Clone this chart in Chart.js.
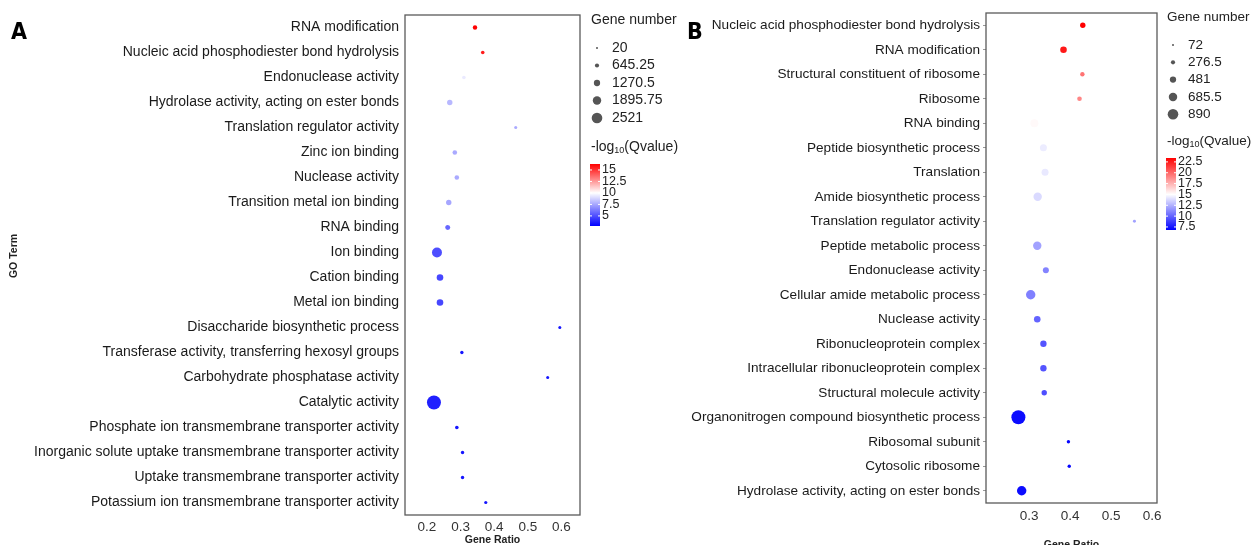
<!DOCTYPE html>
<html>
<head>
<meta charset="utf-8">
<script src="https://cdn.jsdelivr.net/npm/chart.js@4"></script>
<style>
  body { margin: 0; background: #fff; }
  #wrap { position: relative; width: 1253px; height: 545px; }
  #ca { position: absolute; left: 0; top: 0; }
  #cb { position: absolute; left: 686px; top: 0; }
</style>
</head>
<body>
<div id="wrap">
  <canvas id="ca" width="686" height="545"></canvas>
  <canvas id="cb" width="567" height="545"></canvas>
</div>
<script>
// panel A data
const termsA = [
  'RNA modification',
  'Nucleic acid phosphodiester bond hydrolysis',
  'Endonuclease activity',
  'Hydrolase activity, acting on ester bonds',
  'Translation regulator activity',
  'Zinc ion binding',
  'Nuclease activity',
  'Transition metal ion binding',
  'RNA binding',
  'Ion binding',
  'Cation binding',
  'Metal ion binding',
  'Disaccharide biosynthetic process',
  'Transferase activity, transferring hexosyl groups',
  'Carbohydrate phosphatase activity',
  'Catalytic activity',
  'Phosphate ion transmembrane transporter activity',
  'Inorganic solute uptake transmembrane transporter activity',
  'Uptake transmembrane transporter activity',
  'Potassium ion transmembrane transporter activity'
];
const ratioA = [0.343, 0.366, 0.31, 0.268, 0.464, 0.283, 0.289, 0.265, 0.262, 0.23,
                0.239, 0.239, 0.595, 0.304, 0.559, 0.221, 0.289, 0.306, 0.306, 0.375];
const countA = [95, 47, 47, 187, 27, 110, 110, 187, 145, 1100,
                346, 346, 27, 38, 27, 2521, 47, 38, 38, 32];
const qvalA = [16.3, 15.6, 9.4, 8.0, 7.6, 7.6, 7.6, 7.5, 5.7, 5.0,
               4.8, 4.8, 3.4, 3.4, 3.4, 3.7, 3.4, 3.4, 3.4, 3.4];
const xTicksA = [0.2, 0.3, 0.4, 0.5, 0.6];
const sizeKeysA = [20, 645.25, 1270.5, 1895.75, 2521];
const colorKeysA = [15, 12.5, 10, 7.5, 5];

// panel B data
const termsB = [
  'Nucleic acid phosphodiester bond hydrolysis',
  'RNA modification',
  'Structural constituent of ribosome',
  'Ribosome',
  'RNA binding',
  'Peptide biosynthetic process',
  'Translation',
  'Amide biosynthetic process',
  'Translation regulator activity',
  'Peptide metabolic process',
  'Endonuclease activity',
  'Cellular amide metabolic process',
  'Nuclease activity',
  'Ribonucleoprotein complex',
  'Intracellular ribonucleoprotein complex',
  'Structural molecule activity',
  'Organonitrogen compound biosynthetic process',
  'Ribosomal subunit',
  'Cytosolic ribosome',
  'Hydrolase activity, acting on ester bonds'
];
const ratioB = [0.431, 0.384, 0.43, 0.423, 0.313, 0.335, 0.339, 0.321, 0.557, 0.32,
                0.341, 0.304, 0.32, 0.335, 0.335, 0.337, 0.274, 0.396, 0.398, 0.282];
const countB = [127, 179, 96, 102, 263, 201, 201, 291, 74, 291,
                151, 370, 179, 169, 169, 127, 890, 78, 78, 370];
const qvalB = [23.4, 22.6, 19.6, 19.0, 15.2, 14.4, 14.3, 13.8, 12.0, 12.0,
               11.0, 10.9, 10.0, 9.5, 9.5, 9.3, 7.2, 7.0, 7.0, 7.2];
const xTicksB = [0.3, 0.4, 0.5, 0.6];
const sizeKeysB = [72, 276.5, 481, 685.5, 890];
const colorKeysB = [22.5, 20, 17.5, 15, 12.5, 10, 7.5];

Chart.defaults.font.family = "'Liberation Sans', Arial, sans-serif";
Chart.defaults.color = '#222';

function qColor(v, lo, mid, hi) {
  let w;
  if (v >= mid) {
    w = Math.round(255 * (1 - Math.min(1, (v - mid) / (hi - mid))));
    return `rgb(255,${w},${w})`;
  }
  w = Math.round(255 * (1 - Math.min(1, (mid - v) / (mid - lo))));
  return `rgb(${w},${w},255)`;
}

// point radius in the plot (area style) and in the key
function plotR(n, lo, hi) {
  return 1.2 + 5.8 * Math.sqrt((n - lo) / (hi - lo));
}
function keyR(n, lo, hi) {
  return 1 + 4.3 * (n - lo) / (hi - lo);
}

function makePanel(id, cfg) {
  const pts = cfg.terms.map((t, i) => ({
    x: cfg.ratio[i], y: t,
    r: plotR(cfg.count[i], cfg.sizeKeys[0], cfg.sizeKeys[cfg.sizeKeys.length - 1])
  }));
  const cols = cfg.qval.map(v => qColor(v, cfg.qLo, cfg.qMid, cfg.qHi));

  const extras = {
    id: 'extras',
    afterDraw(chart) {
      const ctx = chart.ctx;
      const a = chart.chartArea;
      ctx.save();
      // panel box
      ctx.strokeStyle = '#5a5a5a';
      ctx.lineWidth = 1.3;
      ctx.strokeRect(a.left, a.top, a.right - a.left, a.bottom - a.top);

      // axis titles
      ctx.fillStyle = '#222';
      ctx.font = "bold 10.5px 'Liberation Sans', Arial";
      ctx.textAlign = 'center';
      ctx.textBaseline = 'middle';
      ctx.fillText('Gene Ratio', (a.left + a.right) / 2, cfg.xTitleY);
      if (cfg.yTitle) {
        ctx.save();
        ctx.translate(14, 256);
        ctx.rotate(-Math.PI / 2);
        ctx.fillText(cfg.yTitle, 0, 0);
        ctx.restore();
      }

      // panel letter
      ctx.fillStyle = '#000';
      ctx.font = "bold 23px 'Liberation Sans Narrow', 'DejaVu Sans Condensed', sans-serif";
      ctx.textAlign = 'left';
      ctx.fillText(cfg.letter, cfg.letterX, 33);

      // size key
      const L = cfg.legend;
      ctx.fillStyle = '#222';
      ctx.font = cfg.legendFont;
      ctx.fillText('Gene number', L.x, L.titleY);
      const s0 = cfg.sizeKeys[0], s1 = cfg.sizeKeys[cfg.sizeKeys.length - 1];
      cfg.sizeKeys.forEach((k, i) => {
        const y = L.rowY + i * L.rowStep;
        ctx.fillStyle = '#555';
        ctx.beginPath();
        ctx.arc(L.x + 6, y, keyR(k, s0, s1), 0, Math.PI * 2);
        ctx.fill();
        ctx.fillStyle = '#222';
        ctx.fillText(String(k), L.x + 21, y);
      });

      // colour key title -log10(Qvalue)
      let tx = L.x;
      ctx.fillText('-log', tx, L.cTitleY);
      tx += ctx.measureText('-log').width;
      ctx.font = "9px 'Liberation Sans', Arial";
      ctx.fillText('10', tx, L.cTitleY + 4);
      tx += ctx.measureText('10').width;
      ctx.font = cfg.legendFont;
      ctx.fillText('(Qvalue)', tx, L.cTitleY);

      // colour bar
      const bt = L.barTop, bh = L.barH, bx = L.x - 1, bw = 10;
      const g = ctx.createLinearGradient(0, bt, 0, bt + bh);
      const midPos = (cfg.qHi - cfg.qMid) / (cfg.qHi - cfg.qLo);
      g.addColorStop(0, 'rgb(255,0,0)');
      g.addColorStop(midPos, 'rgb(255,255,255)');
      g.addColorStop(1, 'rgb(0,0,255)');
      ctx.fillStyle = g;
      ctx.fillRect(bx, bt, bw, bh);
      ctx.font = "12.5px 'Liberation Sans', Arial";
      cfg.colorKeys.forEach(v => {
        const y = bt + (cfg.qHi - v) / (cfg.qHi - cfg.qLo) * bh;
        ctx.strokeStyle = '#fff';
        ctx.lineWidth = 1;
        ctx.beginPath();
        ctx.moveTo(bx, y); ctx.lineTo(bx + 2, y);
        ctx.moveTo(bx + bw - 2, y); ctx.lineTo(bx + bw, y);
        ctx.stroke();
        ctx.fillStyle = '#222';
        ctx.fillText(String(v), bx + bw + 2, y);
      });
      ctx.restore();
    }
  };

  return new Chart(document.getElementById(id), {
    type: 'bubble',
    data: {
      datasets: [{
        data: pts,
        backgroundColor: cols,
        borderWidth: 0,
        hoverRadius: 0
      }]
    },
    options: {
      responsive: false,
      animation: false,
      layout: { padding: cfg.padding },
      plugins: { legend: { display: false }, tooltip: { enabled: false } },
      scales: {
        x: {
          type: 'linear',
          min: cfg.xMin,
          max: cfg.xMax,
          grid: { display: false, drawTicks: false },
          border: { display: false },
          afterBuildTicks: s => { s.ticks = cfg.xTicks.map(v => ({ value: v })); },
          afterFit: s => { s.height = cfg.xAxisH; },
          ticks: {
            padding: cfg.xPad,
            color: '#333',
            font: { size: 13.5 },
            maxRotation: 0,
            callback: v => v.toFixed(1)
          }
        },
        y: {
          type: 'category',
          labels: cfg.terms,
          offset: true,
          grid: cfg.yGrid,
          border: { display: false },
          afterFit: s => { s.width = cfg.yAxisW; },
          ticks: { padding: cfg.yPad, color: '#1a1a1a', font: { size: cfg.yFont }, autoSkip: false }
        }
      }
    },
    plugins: [extras]
  });
}

makePanel('ca', {
  terms: termsA, ratio: ratioA, count: countA, qval: qvalA,
  sizeKeys: sizeKeysA, colorKeys: colorKeysA, xTicks: xTicksA,
  qLo: 2.8, qMid: 10, qHi: 16.3,
  xMin: 0.135, xMax: 0.655,
  padding: { top: 15, right: 106, left: 0, bottom: 0 },
  yAxisW: 405, xAxisH: 30, xPad: 4, yPad: 6, yFont: 14,
  yGrid: { display: false, drawTicks: false },
  legendFont: "14px 'Liberation Sans', Arial",
  xTitleY: 540, yTitle: 'GO Term', letter: 'A', letterX: 11,
  legend: { x: 591, titleY: 20, rowY: 48, rowStep: 17.5, cTitleY: 147, barTop: 164, barH: 62 }
});

makePanel('cb', {
  terms: termsB, ratio: ratioB, count: countB, qval: qvalB,
  sizeKeys: sizeKeysB, colorKeys: colorKeysB, xTicks: xTicksB,
  qLo: 6.8, qMid: 15, qHi: 23.4,
  xMin: 0.195, xMax: 0.612,
  padding: { top: 13, right: 96, left: 0, bottom: 0 },
  yAxisW: 300, xAxisH: 42, xPad: 5, yPad: 3, yFont: 13.6,
  yGrid: { display: true, drawOnChartArea: false, drawTicks: true, tickLength: 3, color: '#999', lineWidth: 1 },
  legendFont: "13.5px 'Liberation Sans', Arial",
  xTitleY: 545, yTitle: null, letter: 'B', letterX: 1,
  legend: { x: 481, titleY: 17, rowY: 45, rowStep: 17.3, cTitleY: 141, barTop: 158, barH: 72 }
});
</script>
</body>
</html>
